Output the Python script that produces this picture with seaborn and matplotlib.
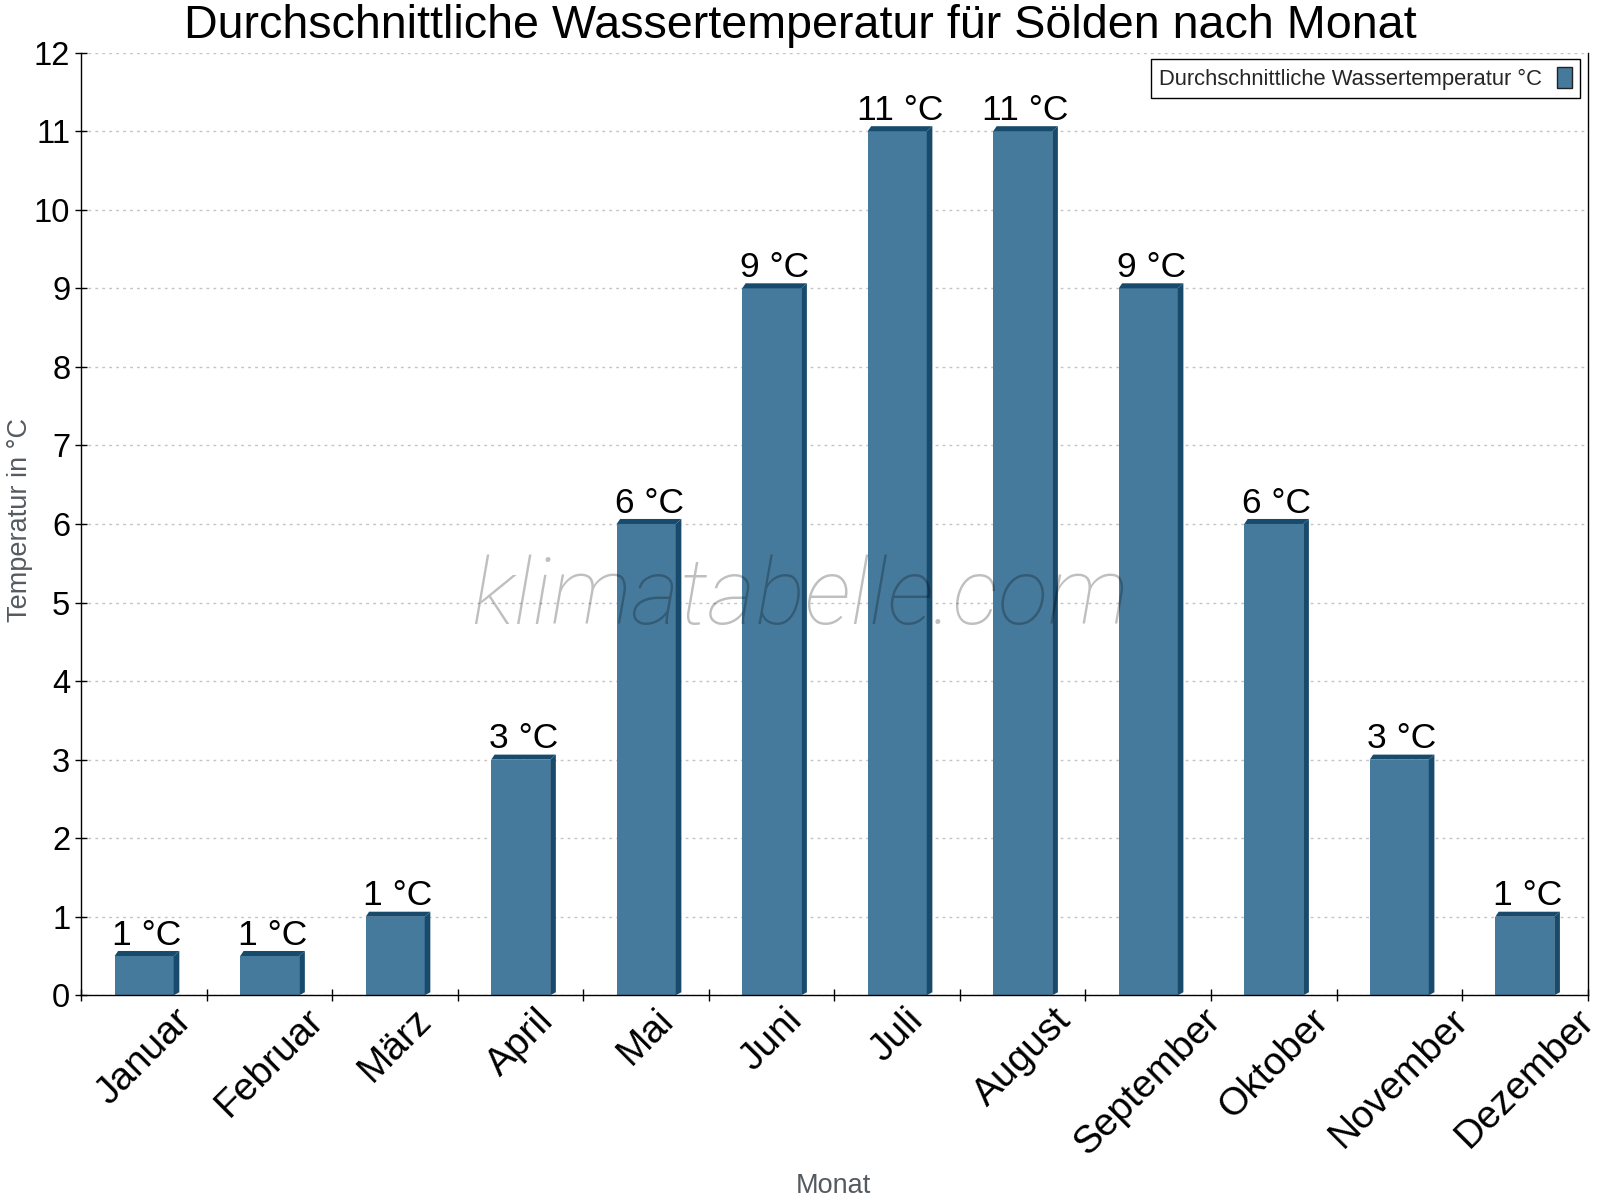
import seaborn as sns
import matplotlib.pyplot as plt
import numpy as np
import pandas as pd
from matplotlib.patches import Polygon, Patch

# data
months = ['Januar', 'Februar', 'März', 'April', 'Mai', 'Juni', 'Juli',
          'August', 'September', 'Oktober', 'November', 'Dezember']
water_temp = [0.5, 0.5, 1, 3, 6, 9, 11, 11, 9, 6, 3, 1]
value_labels = ['1 °C', '1 °C', '1 °C', '3 °C', '6 °C', '9 °C', '11 °C',
                '11 °C', '9 °C', '6 °C', '3 °C', '1 °C']
legend_label = 'Durchschnittliche Wassertemperatur °C'

face = '#467a9c'
dark = '#184a6c'

sns.set_theme(style='white')
plt.rcParams['font.family'] = ['Liberation Sans', 'DejaVu Sans']

df = pd.DataFrame({'Monat': months, 'Temp': water_temp})

fig = plt.figure(figsize=(16, 12), dpi=100)
ax = fig.add_axes([0.0509, 0.1706, 0.9413, 0.7855])

sns.barplot(data=df, x='Monat', y='Temp', color=face, saturation=1,
            width=0.47, ax=ax, zorder=2, linewidth=0, edgecolor='none')

# fake 3d edge: dark top strip and right side on each bar
dx, dy = 0.045, 0.064
for p, lab in zip(ax.patches, value_labels):
    x0, w, h = p.get_x(), p.get_width(), p.get_height()
    x1 = x0 + w
    top = Polygon([(x0, h), (x0 + dx * 0.6, h + dy), (x1 + dx, h + dy), (x1, h)],
                  closed=True, facecolor=dark, edgecolor='none', zorder=3)
    side = Polygon([(x1, h), (x1 + dx, h + dy), (x1 + dx, dy * 0.6), (x1, 0)],
                   closed=True, facecolor=dark, edgecolor='none', zorder=3)
    ax.add_patch(top)
    ax.add_patch(side)
    ax.annotate(lab, (x0 + w / 2 + dx / 2, h + dy), xytext=(0, 4.5),
                textcoords='offset points', ha='center', va='baseline',
                fontsize=25.5, color='black', zorder=4)

ax.set_xlim(-0.5, 11.5)
ax.set_ylim(0, 12)
ax.set_yticks(range(0, 13))
ax.yaxis.grid(True, color='#c4c4c4', linestyle=(0, (2, 3)), linewidth=1, zorder=0)
ax.xaxis.grid(False)

ax.set_xticks(range(12))
ax.set_xticklabels(months, rotation=45, ha='center', va='top', fontsize=28)
ax.set_xticks(np.arange(-0.5, 12, 1), minor=True)
ax.tick_params(axis='x', which='major', length=0, pad=5, colors='black')
ax.tick_params(axis='x', which='minor', bottom=True, length=8, direction='inout',
               width=1, color='black')
ax.tick_params(axis='y', left=True, length=8, direction='inout', width=1,
               color='black', labelsize=23.5, pad=4)
for lbl in ax.get_yticklabels():
    lbl.set_color('black')

ax.set_xlabel('')
ax.set_ylabel('')
for side_name in ['left', 'bottom', 'right']:
    ax.spines[side_name].set_visible(True)
    ax.spines[side_name].set_color('black')
    ax.spines[side_name].set_linewidth(1.0)
ax.spines['top'].set_visible(False)

handle = Patch(facecolor=face, edgecolor='#222222', linewidth=1)
leg = ax.legend([handle], [legend_label], loc='upper right',
                bbox_to_anchor=(0.995, 0.9933), borderaxespad=0,
                markerfirst=False, fancybox=False, framealpha=1,
                edgecolor='black', fontsize=15.8, handlelength=0.7,
                handleheight=1.15, borderpad=0.35, handletextpad=0.7)
leg.get_frame().set_linewidth(1.0)

fig.text(0.5, 0.968, 'Durchschnittliche Wassertemperatur für Sölden nach Monat',
         ha='center', va='baseline', fontsize=33.6, color='black')
fig.text(0.0128, 0.567, 'Temperatur in °C', rotation=90, ha='center',
         va='center', fontsize=19.5, color='#555a60')
fig.text(0.521, 0.006, 'Monat', ha='center', va='baseline', fontsize=19.5,
         color='#555a60')

# watermark
fig.text(0.5, 0.48, 'klimatabelle.com', ha='center', va='baseline',
         fontsize=67, family='Roboto', fontweight='light', style='italic',
         color='black', alpha=0.25, zorder=10)

fig.savefig('out.png', dpi=100)
